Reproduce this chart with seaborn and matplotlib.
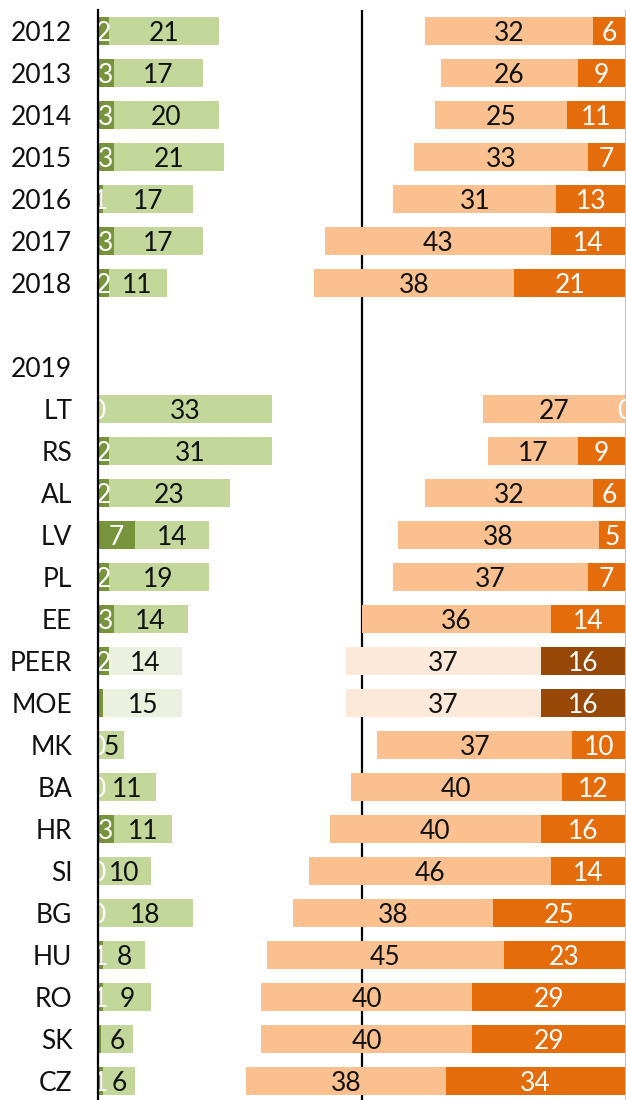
import matplotlib
matplotlib.use("Agg")
import matplotlib.pyplot as plt
import numpy as np
import pandas as pd
import seaborn as sns

# ---------------- data ----------------
labels = ['2012', '2013', '2014', '2015', '2016', '2017', '2018', ' ', '2019',
          'LT', 'RS', 'AL', 'LV', 'PL', 'EE', 'PEER', 'MOE', 'MK', 'BA', 'HR',
          'SI', 'BG', 'HU', 'RO', 'SK', 'CZ']
green_dark = [2, 3, 3, 3, 1, 3, 2, 0, 0,
              0, 2, 2, 7, 2, 3, 2, 1, 0, 0, 3, 0, 0, 1, 1, 0.6, 1]
green_light = [21, 17, 20, 21, 17, 17, 11, 0, 0,
               33, 31, 23, 14, 19, 14, 14, 15, 5, 11, 11, 10, 18, 8, 9, 6, 6]
orange_light = [32, 26, 25, 33, 31, 43, 38, 0, 0,
                27, 17, 32, 38, 37, 36, 37, 37, 37, 40, 40, 46, 38, 45, 40, 40, 38]
orange_dark = [6, 9, 11, 7, 13, 14, 21, 0, 0,
               0, 9, 6, 5, 7, 14, 16, 16, 10, 12, 16, 14, 25, 23, 29, 29, 34]
green_dark_text = ['2', '3', '3', '3', '1', '3', '2', '', '',
                   '0', '2', '2', '7', '2', '3', '2', '', '0', '0', '3', '0', '0', '1', '1', '', '1']
pale_rows = ['PEER', 'MOE']
blank_rows = [' ', '2019']

# ---------------- style ----------------
sns.set_theme(style='white')
plt.rcParams['font.family'] = ['Lato', 'DejaVu Sans']

C_GL, C_GD, C_GP = '#C4D79B', '#77933C', '#EBF1DE'
C_OL, C_OD, C_OP, C_OB = '#FAC090', '#E46C0A', '#FDE9D9', '#974806'

df = pd.DataFrame({'label': labels, 'gd': green_dark, 'gl': green_light,
                   'ol': orange_light, 'od': orange_dark})
df['g_total'] = df['gd'] + df['gl']
df['o_total'] = df['ol'] + df['od']

pal_gl = {l: (C_GP if l in pale_rows else C_GL) for l in labels}
pal_gd = {l: C_GD for l in labels}
pal_ol = {l: (C_OP if l in pale_rows else C_OL) for l in labels}
pal_od = {l: (C_OB if l in pale_rows else C_OD) for l in labels}

W, H = 626, 1100
fig = plt.figure(figsize=(W / 100, H / 100), dpi=100)
ax = fig.add_axes([98 / W, 0, 527 / W, 1090 / H])
ax2 = ax.twiny()

common = dict(y='label', hue='label', order=labels, hue_order=labels, width=0.67,
              legend=False, errorbar=None, linewidth=0, saturation=1, orient='h')
sns.barplot(data=df, x='g_total', palette=pal_gl, ax=ax, **common)
sns.barplot(data=df, x='gd', palette=pal_gd, ax=ax, **common)
sns.barplot(data=df, x='o_total', palette=pal_ol, ax=ax2, **common)
sns.barplot(data=df, x='od', palette=pal_od, ax=ax2, **common)

ax.set_xlim(0, 100)
ax2.set_xlim(100, 0)
ax.set_ylim(25.452, -0.5)

ax.axvline(50, color='black', lw=1.6, zorder=0.5)

FS = 19
for i, lab in enumerate(labels):
    if lab in blank_rows:
        continue
    gd, gl, ol, od = green_dark[i], green_light[i], orange_light[i], orange_dark[i]
    if green_dark_text[i]:
        ax.text(gd / 2, i, green_dark_text[i], color='white', ha='center',
                va='center_baseline', fontsize=FS, clip_on=False, zorder=3)
    ax.text(gd + gl / 2, i, f'{gl:g}', color='#111111', ha='center',
            va='center_baseline', fontsize=FS, zorder=3)
    ax2.text(od + ol / 2, i, f'{ol:g}', color='#111111', ha='center',
             va='center_baseline', fontsize=FS, zorder=3)
    ax2.text(od / 2, i, f'{od:g}', color='white', ha='center',
             va='center_baseline', fontsize=FS, clip_on=False, zorder=3)

ax.set_yticks(range(len(labels)))
ax.set_yticklabels(labels)
ax.tick_params(axis='y', length=0, pad=18.5, labelsize=FS, labelcolor='#111111')
ax.set_xticks([])
ax2.set_xticks([])
for a in (ax, ax2):
    a.set_xlabel('')
    a.set_ylabel('')
for s in ['top', 'bottom', 'right']:
    ax.spines[s].set_visible(False)
ax.spines['left'].set_color('black')
ax.spines['left'].set_linewidth(1.6)
ax.spines['left'].set_zorder(4)
for s in ['top', 'bottom', 'left']:
    ax2.spines[s].set_visible(False)
ax2.spines['right'].set_color('#BFBFBF')
ax2.spines['right'].set_linewidth(0.8)

fig.savefig('out.png', dpi=100)
